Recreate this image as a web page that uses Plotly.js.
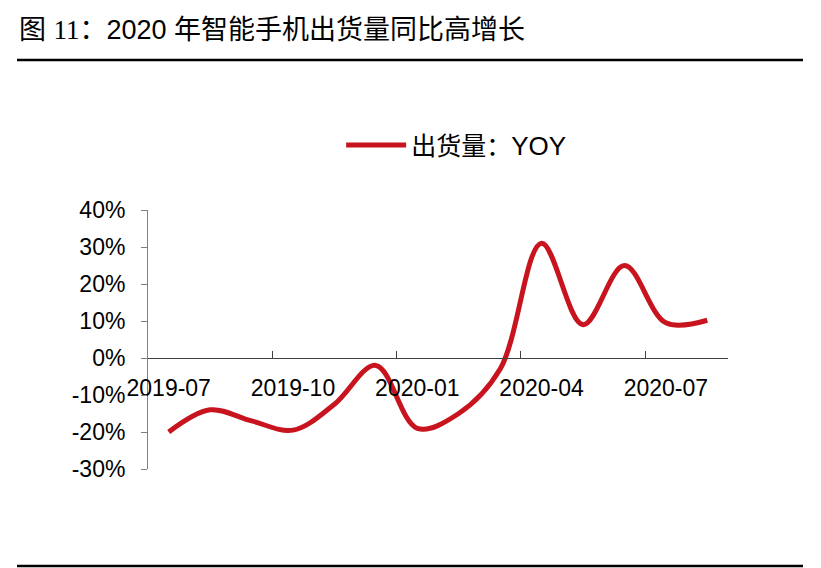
<!DOCTYPE html>
<html>
<head>
<meta charset="utf-8">
<script src="https://cdn.plot.ly/plotly-3.0.1.min.js"></script>
<style>
  html, body { margin: 0; padding: 0; background: #fff; }
  #myDiv { width: 821px; height: 568px; }
</style>
</head>
<body>
<div id="myDiv"></div>
<script>
// monthly shipments YoY (%)
var months = ['2019-07', '2019-08', '2019-09', '2019-10', '2019-11', '2019-12',
              '2020-01', '2020-02', '2020-03', '2020-04', '2020-05', '2020-06',
              '2020-07', '2020-08'];
var yoy = [-20, -14, -17, -19.5, -12.5, -2, -19, -15, -3, 31, 9, 25, 9.5, 10.2];

// y ticks (plain hyphen for negatives, as in the source)
var yTickVals = [-30, -20, -10, 0, 10, 20, 30, 40];
var yTickText = ['-30%', '-20%', '-10%', '0%', '10%', '20%', '30%', '40%'];

var seriesName = '出货量：<span style="font-family:Liberation Sans;font-size:26px">YOY</span>';
var red = '#C8141E';

var data = [{
  x: months,
  y: yoy,
  name: seriesName,
  type: 'scatter',
  mode: 'lines',
  line: {color: red, width: 5, shape: 'spline', smoothing: 1},
  showlegend: true
}];

var sansCJK = 'Liberation Sans, Arial, Noto Sans CJK SC, sans-serif';
var tickFont = {family: 'Liberation Sans, Arial, sans-serif', size: 23, color: '#000'};

var layout = {
  width: 821,
  height: 568,
  margin: {l: 148, r: 93, t: 210, b: 99},
  paper_bgcolor: '#fff',
  plot_bgcolor: '#fff',
  font: {family: sansCJK, size: 20, color: '#000'},
  title: {
    text: '图 <span style="font-family:Liberation Serif">11</span>：2020 年智能手机出货量同比高增长',
    font: {family: sansCJK, size: 27, color: '#000'},
    xref: 'container', yref: 'container',
    x: 19 / 821, xanchor: 'left',
    y: 1 - 30 / 568, yanchor: 'middle'
  },
  showlegend: true,
  legend: {
    orientation: 'h',
    x: 0.333, xanchor: 'left',
    y: 1.25, yanchor: 'middle',
    itemwidth: 60,
    font: {family: 'Noto Sans CJK SC, Liberation Sans, sans-serif', size: 25, color: '#000'},
    bgcolor: 'rgba(0,0,0,0)'
  },
  xaxis: {
    type: 'category',
    anchor: 'free',
    position: 30 / 70,
    range: [-0.5, months.length - 0.5],
    tickmode: 'linear', tick0: 0, dtick: 3,
    tickson: 'boundaries',
    tickangle: 0,
    ticks: 'inside', ticklen: 7, tickcolor: '#404040', tickwidth: 1,
    ticklabelstandoff: 9,
    showline: true, linecolor: '#404040', linewidth: 1,
    showgrid: false, zeroline: false,
    tickfont: tickFont
  },
  yaxis: {
    range: [-30, 40],
    tickmode: 'array', tickvals: yTickVals, ticktext: yTickText,
    ticks: 'outside', ticklen: 6, tickcolor: '#808080', tickwidth: 1,
    ticklabelstandoff: 11,
    showline: true, linecolor: '#808080', linewidth: 1,
    showgrid: false, zeroline: false,
    tickfont: tickFont
  },
  shapes: [
    // rule under the title and at the page bottom
    {type: 'line', xref: 'paper', yref: 'paper',
     x0: (17 - 148) / 580, x1: (803 - 148) / 580,
     y0: (469 - 60) / 259, y1: (469 - 60) / 259,
     line: {color: '#000', width: 2.5}},
    {type: 'line', xref: 'paper', yref: 'paper',
     x0: (17 - 148) / 580, x1: (803 - 148) / 580,
     y0: (469 - 566) / 259, y1: (469 - 566) / 259,
     line: {color: '#000', width: 2.5}}
  ]
};

Plotly.newPlot('myDiv', data, layout, {staticPlot: true, displayModeBar: false});
</script>
</body>
</html>
